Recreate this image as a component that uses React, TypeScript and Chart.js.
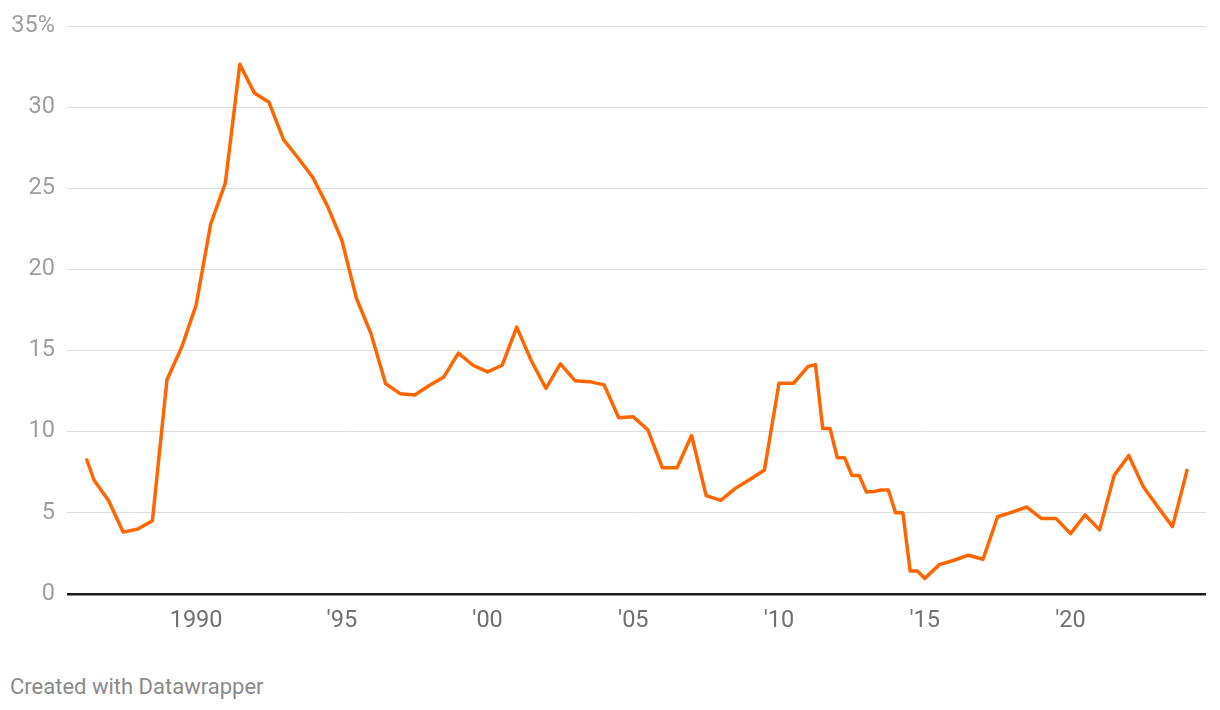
import React, { useEffect, useRef } from "react";
import { Chart, registerables } from "chart.js";

Chart.register(...registerables);

// Half-yearly (partly quarterly) observations, decimal years
const years = [
  1986.25, 1986.5, 1987.0, 1987.5, 1988.0, 1988.5, 1989.0, 1989.5,
  1990.0, 1990.5, 1991.0, 1991.5, 1992.0, 1992.5, 1993.0, 1993.5,
  1994.0, 1994.5, 1995.0, 1995.5, 1996.0, 1996.5, 1997.0, 1997.5,
  1998.0, 1998.5, 1999.0, 1999.5, 2000.0, 2000.5, 2001.0, 2001.5,
  2002.0, 2002.5, 2003.0, 2003.5, 2004.0, 2004.5, 2005.0, 2005.5,
  2006.0, 2006.5, 2007.0, 2007.5, 2008.0, 2008.5, 2009.0, 2009.5,
  2010.0, 2010.5, 2011.0, 2011.25, 2011.5, 2011.75, 2012.0, 2012.25,
  2012.5, 2012.75, 2013.0, 2013.25, 2013.5, 2013.75, 2014.0, 2014.25,
  2014.5, 2014.75, 2015.0, 2015.5, 2016.0, 2016.5, 2017.0, 2017.5,
  2018.0, 2018.5, 2019.0, 2019.5, 2020.0, 2020.5, 2021.0, 2021.5,
  2022.0, 2022.5, 2023.0, 2023.5, 2024.0,
];

const rates = [
  8.25, 7.0, 5.73, 3.8, 4.0, 4.5, 13.2, 15.18,
  17.8, 22.8, 25.3, 32.65, 30.87, 30.3, 28.0, 26.87,
  25.68, 23.93, 21.8, 18.22, 16.04, 12.96, 12.34, 12.26,
  12.84, 13.37, 14.84, 14.09, 13.68, 14.09, 16.44, 14.37,
  12.67, 14.17, 13.14, 13.08, 12.88, 10.85, 10.91, 10.11,
  7.77, 7.77, 9.76, 6.05, 5.76, 6.5, 7.05, 7.63,
  12.98, 12.98, 14.02, 14.13, 10.19, 10.19, 8.39, 8.39,
  7.3, 7.3, 6.27, 6.3, 6.4, 6.4, 5.0, 5.0,
  1.4, 1.4, 0.95, 1.8, 2.07, 2.38, 2.13, 4.75,
  5.04, 5.35, 4.65, 4.65, 3.71, 4.86, 3.94, 7.3,
  8.53, 6.6, 5.35, 4.14, 7.61,
];

const xTickYears = [1990, 1995, 2000, 2005, 2010, 2015, 2020];
const xTickLabels = ["1990", "'95", "'00", "'05", "'10", "'15", "'20"];
const yTickValues = [0, 5, 10, 15, 20, 25, 30, 35];
const yTickLabels = ["0", "5", "10", "15", "20", "25", "30", "35%"];

const FONT = "Roboto, 'Noto Sans', sans-serif";

export default function App() {
  const canvasRef = useRef<HTMLCanvasElement | null>(null);

  useEffect(() => {
    const canvas = canvasRef.current;
    if (!canvas) return;
    const chart = new Chart(canvas, {
      type: "line",
      data: {
        datasets: [
          {
            data: years.map((x, i) => ({ x, y: rates[i] })),
            borderColor: "#ff6600",
            borderWidth: 3.5,
            pointRadius: 0,
            pointHoverRadius: 0,
            tension: 0,
            fill: false,
            borderJoinStyle: "round",
            borderCapStyle: "round",
          },
        ],
      },
      options: {
        animation: false,
        responsive: false,
        devicePixelRatio: 1,
        layout: { padding: { top: 24, right: 14, left: 0, bottom: 2 } },
        plugins: {
          legend: { display: false },
          tooltip: { enabled: false },
        },
        scales: {
          x: {
            type: "linear",
            min: 1985.57,
            max: 2024.65,
            afterBuildTicks: (s: any) => {
              s.ticks = xTickYears.map((v) => ({ value: v }));
            },
            ticks: {
              autoSkip: false,
              maxRotation: 0,
              padding: 13,
              color: "#707070",
              font: { family: FONT, size: 23.5 },
              callback: (v: any) => {
                const i = xTickYears.indexOf(Number(v));
                return i >= 0 ? xTickLabels[i] : "";
              },
            },
            grid: { display: false, drawTicks: false },
            border: { display: false },
          },
          y: {
            min: 0,
            max: 35,
            afterBuildTicks: (s: any) => {
              s.ticks = yTickValues.map((v) => ({ value: v }));
            },
            afterFit: (s: any) => {
              s.width = 67;
            },
            ticks: {
              padding: 12,
              color: "#9e9e9e",
              font: { family: FONT, size: 23.5 },
              callback: (v: any) => {
                const i = yTickValues.indexOf(Number(v));
                return i >= 0 ? yTickLabels[i] : "";
              },
            },
            grid: {
              drawTicks: false,
              color: (ctx: any) => (ctx.tick && ctx.tick.value === 0 ? "#1c1c1c" : "#dcdcdc"),
              lineWidth: (ctx: any) => (ctx.tick && ctx.tick.value === 0 ? 2.5 : 1),
            },
            border: { display: false },
          },
        },
      },
    });
    return () => chart.destroy();
  }, []);

  return (
    <div style={{ position: "fixed", left: 0, top: 0, width: 1220, height: 710, background: "#fff" }}>
      <canvas ref={canvasRef} width={1220} height={650} style={{ position: "absolute", left: 0, top: 0 }} />
      <div
        style={{
          position: "absolute",
          left: 10,
          top: 674,
          fontFamily: FONT,
          fontSize: 22,
          color: "#8a8a8a",
          lineHeight: "26px",
          whiteSpace: "nowrap",
        }}
      >
        Created with Datawrapper
      </div>
    </div>
  );
}
